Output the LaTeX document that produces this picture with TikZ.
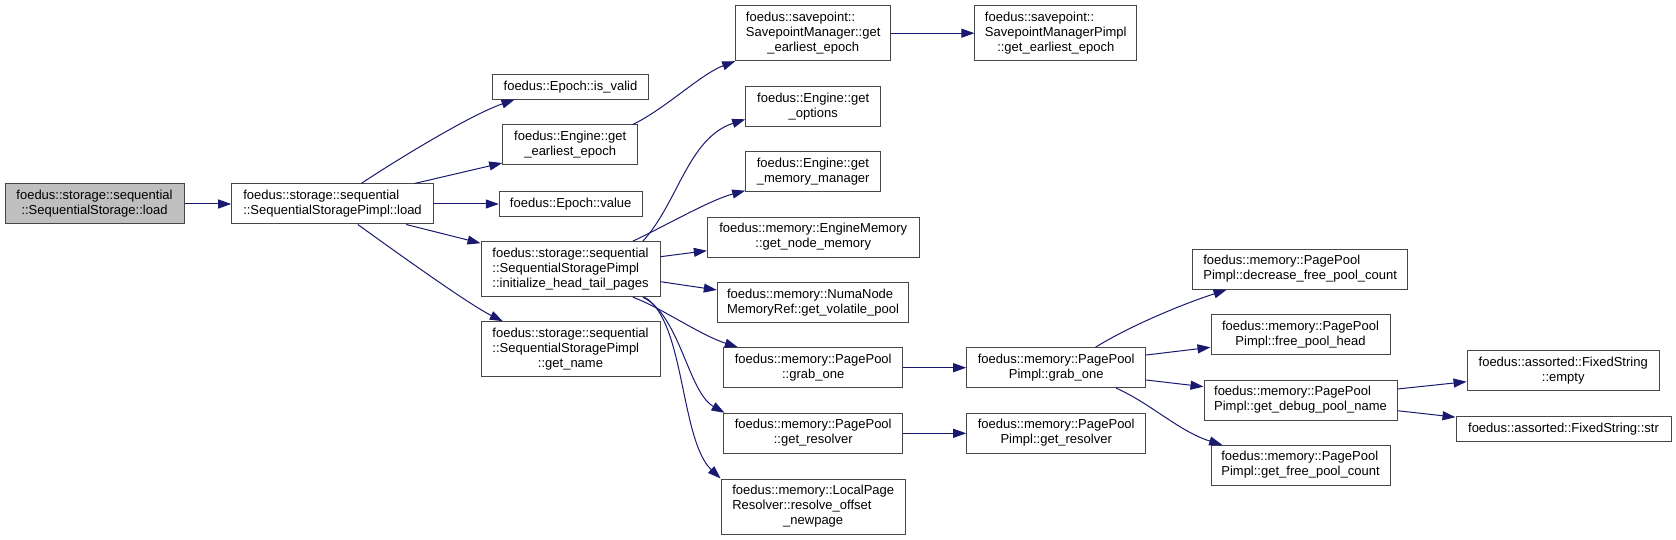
\documentclass[tikz,border=0pt]{standalone}
\usepackage{fontspec}
\setmainfont{Liberation Sans}
\usetikzlibrary{arrows.meta,calc}
\definecolor{edgec}{RGB}{25,25,112}
\definecolor{rootfill}{RGB}{191,191,191}
\newcommand{\lbl}[2]{\begin{tabular}{@{}l@{}}#1\\\multicolumn{1}{@{}c@{}}{#2}\end{tabular}}
\begin{document}
\begin{tikzpicture}[x=1pt,y=-1pt,
  box/.style={draw=black!72, line width=1pt, fill=white, rectangle, inner sep=0pt,
    font=\fontsize{13}{15}\selectfont},
  edge/.style={draw=edgec, line width=1pt, -{Triangle[length=13pt,width=9pt]}}]
\useasboundingbox (0,0) rectangle (1676,540);

% column 0
\node[box, fill=rootfill, minimum width=179, minimum height=40] (A) at (94.5,204)
  {\lbl{foedus::storage::sequential}{::SequentialStorage::load}};
% column 1
\node[box, minimum width=201.6, minimum height=40] (B) at (332.5,204)
  {\lbl{foedus::storage::sequential}{::SequentialStoragePimpl::load}};
% column 2
\node[box, minimum width=155.6, minimum height=25] (isvalid) at (570.5,86.7) {foedus::Epoch::is\_valid};
\node[box, minimum width=135, minimum height=40] (engE) at (570.2,145)
  {\lbl{foedus::Engine::get}{\_earliest\_epoch}};
\node[box, minimum width=142.7, minimum height=25] (value) at (570.7,204) {foedus::Epoch::value};
\node[box, minimum width=179, minimum height=55] (init) at (570.5,269.2)
  {\lbl{foedus::storage::sequential\\::SequentialStoragePimpl}{::initialize\_head\_tail\_pages}};
\node[box, minimum width=179, minimum height=55] (getname) at (570.5,349.2)
  {\lbl{foedus::storage::sequential\\::SequentialStoragePimpl}{::get\_name}};
% column 3
\node[box, minimum width=155, minimum height=55] (spm) at (813.2,33.2)
  {\lbl{foedus::savepoint::\\SavepointManager::get}{\_earliest\_epoch}};
\node[box, minimum width=135, minimum height=40] (options) at (813.2,106.7)
  {\lbl{foedus::Engine::get}{\_options}};
\node[box, minimum width=135, minimum height=40] (memmgr) at (813.2,172)
  {\lbl{foedus::Engine::get}{\_memory\_manager}};
\node[box, minimum width=211.7, minimum height=40] (nodemem) at (813.2,237.2)
  {\lbl{foedus::memory::EngineMemory}{::get\_node\_memory}};
\node[box, minimum width=191.4, minimum height=40] (numa) at (813,302.5)
  {\lbl{foedus::memory::NumaNode}{MemoryRef::get\_volatile\_pool}};
\node[box, minimum width=179, minimum height=40] (ppgrab) at (813.2,367.7)
  {\lbl{foedus::memory::PagePool}{::grab\_one}};
\node[box, minimum width=179, minimum height=40] (ppres) at (813.2,433.3)
  {\lbl{foedus::memory::PagePool}{::get\_resolver}};
\node[box, minimum width=184.3, minimum height=55] (local) at (813.2,506.5)
  {\lbl{foedus::memory::LocalPage\\Resolver::resolve\_offset}{\_newpage}};
% column 4
\node[box, minimum width=161.7, minimum height=55] (spmp) at (1055.8,33.2)
  {\lbl{foedus::savepoint::\\SavepointManagerPimpl}{::get\_earliest\_epoch}};
\node[box, minimum width=179, minimum height=40] (ppigrab) at (1056.2,367.7)
  {\lbl{foedus::memory::PagePool}{Pimpl::grab\_one}};
\node[box, minimum width=179, minimum height=40] (ppires) at (1056.2,433.3)
  {\lbl{foedus::memory::PagePool}{Pimpl::get\_resolver}};
% column 5
\node[box, minimum width=215, minimum height=40] (decrease) at (1300.2,269.3)
  {\lbl{foedus::memory::PagePool}{Pimpl::decrease\_free\_pool\_count}};
\node[box, minimum width=179, minimum height=40] (freehead) at (1300.5,334.7)
  {\lbl{foedus::memory::PagePool}{Pimpl::free\_pool\_head}};
\node[box, minimum width=193, minimum height=40] (debug) at (1300.5,400)
  {\lbl{foedus::memory::PagePool}{Pimpl::get\_debug\_pool\_name}};
\node[box, minimum width=179, minimum height=40] (freecount) at (1300.5,465.3)
  {\lbl{foedus::memory::PagePool}{Pimpl::get\_free\_pool\_count}};
% column 6
\node[box, minimum width=192.3, minimum height=40] (empty) at (1563.2,370.7)
  {\lbl{foedus::assorted::FixedString}{::empty}};
\node[box, minimum width=215, minimum height=25] (str) at (1563.5,429.2) {foedus::assorted::FixedString::str};

% edges
\draw[edge] (A.east) -- (B.west);
\draw[edge] ($(B.north west)+(130,0)$) .. controls (395,161) and (470,115) .. ($(isvalid.south west)+(22.3,0)$);
\draw[edge] ($(B.north west)+(183.3,0)$) -- ($(engE.west)+(0,18)$);
\draw[edge] (B.east) -- (value.west);
\draw[edge] ($(B.south west)+(175,0)$) -- ($(init.north west)+(0,2)$);
\draw[edge] ($(B.south west)+(126.6,0)$) .. controls (400,255) and (470,305) .. ($(getname.north west)+(22.3,0)$);

\draw[edge] ($(engE.north west)+(130.6,0)$) .. controls (665,109) and (701,74) .. (spm.south west);
\draw[edge] (spm.east) -- (spmp.west);

\draw[edge] ($(init.north west)+(162.3,0)$) .. controls (678,203) and (688,138) .. ($(options.west)+(0,12.6)$);
\draw[edge] ($(init.north west)+(152.3,0)$) .. controls (665,226) and (710,200) .. ($(memmgr.west)+(0,18.7)$);
\draw[edge] ($(init.east)+(0,-12.5)$) -- ($(nodemem.west)+(0,13.5)$);
\draw[edge] ($(init.east)+(0,12.5)$) -- ($(numa.west)+(0,-12.5)$);
\draw[edge] ($(init.south west)+(152.3,0)$) .. controls (660,307) and (700,335) .. ($(ppgrab.north west)+(14.6,0)$);
\draw[edge] ($(init.south west)+(162.3,0)$) .. controls (680,315) and (688,392) .. ($(ppres.north west)+(1.3,0)$);
\draw[edge] ($(init.south west)+(164,0)$) .. controls (685,320) and (680,440) .. (local.north west);

\draw[edge] (ppgrab.east) -- (ppigrab.west);
\draw[edge] (ppres.east) -- (ppires.west);

\draw[edge] ($(ppigrab.north west)+(129.3,0)$) .. controls (1130,326) and (1180,305) .. ($(decrease.south west)+(34.3,0)$);
\draw[edge] ($(ppigrab.east)+(0,-12.7)$) -- ($(freehead.west)+(0,12.6)$);
\draw[edge] ($(ppigrab.east)+(0,12.3)$) -- ($(debug.west)+(0,-13.3)$);
\draw[edge] ($(ppigrab.south west)+(150,0)$) .. controls (1150,403) and (1180,432) .. ($(freecount.north west)+(11.7,0)$);

\draw[edge] ($(debug.east)+(0,-11)$) -- ($(empty.west)+(0,11)$);
\draw[edge] ($(debug.east)+(0,10.7)$) -- ($(str.west)+(0,-12)$);
\end{tikzpicture}
\end{document}
